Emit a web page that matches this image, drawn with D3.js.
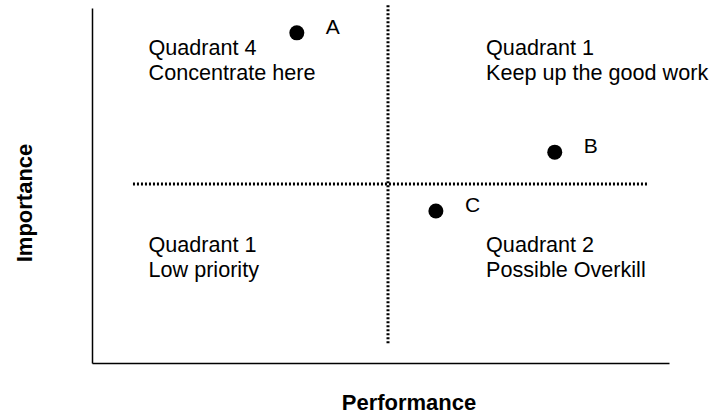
<!DOCTYPE html>
<html>
<head>
<meta charset="utf-8">
<script src="https://cdn.jsdelivr.net/npm/d3@7"></script>
<style>
  body { margin: 0; background: #fff; }
  svg text { font-family: Arial, "Liberation Sans", sans-serif; fill: #000; }
</style>
</head>
<body>
<div id="app"></div>
<script>
// chart data
var pointNames = ['A', 'B', 'C'];
var performance = [3.55, 8.02, 5.96];
var importance = [9.30, 5.94, 4.28];

var quadrantTitles = ['Quadrant 4', 'Quadrant 1', 'Quadrant 1', 'Quadrant 2'];
var quadrantNotes = ['Concentrate here', 'Keep up the good work', 'Low priority', 'Possible Overkill'];

var dividerX = 5.13;   // performance split
var dividerY = 5.04;   // importance split

var width = 712,
  height = 414;

var svg = d3.select('#app')
  .append('svg')
  .attr('width', width)
  .attr('height', height)

var x = d3.scaleLinear().domain([0, 10]).range([92, 669]);
var y = d3.scaleLinear().domain([0, 10]).range([363, 8]);

// axes (plain lines, no ticks)
svg.append('g')
  .attr('transform', 'translate(0,' + y(0) + ')')
  .call(d3.axisBottom(x).tickValues([]).tickSizeOuter(0))
  .select('.domain').attr('stroke', '#000').attr('stroke-width', 1.5)

svg.append('g')
  .attr('transform', 'translate(' + x(0) + ',0)')
  .call(d3.axisLeft(y).tickValues([]).tickSizeOuter(0))
  .select('.domain').attr('stroke', '#000').attr('stroke-width', 1.5)

// dotted quadrant dividers
svg.append('line')
  .attr('x1', x(dividerX)).attr('x2', x(dividerX))
  .attr('y1', y(10.08)).attr('y2', y(0.51))
  .attr('stroke', '#000')
  .attr('stroke-width', 3)
  .attr('stroke-dasharray', '2 2')

svg.append('line')
  .attr('x1', x(0.71)).attr('x2', x(9.64))
  .attr('y1', y(dividerY)).attr('y2', y(dividerY))
  .attr('stroke', '#000')
  .attr('stroke-width', 3)
  .attr('stroke-dasharray', '2 2')

// quadrant captions: top-left, top-right, bottom-left, bottom-right
var qx = [x(0.98), x(6.83), x(0.98), x(6.83)];
var qy = [55, 55, 252, 252];

var captions = svg.append('g').attr('class', 'captions')
quadrantTitles.forEach(function (t, i) {
  var txt = captions.append('text')
    .attr('x', qx[i])
    .attr('y', qy[i])
    .style('font-size', '21.6px')
  txt.append('tspan').attr('x', qx[i]).text(t)
  txt.append('tspan').attr('x', qx[i]).attr('dy', 25).text(quadrantNotes[i])
})

// points
svg.append('g')
  .selectAll('circle')
  .data(pointNames)
  .enter()
  .append('circle')
  .attr('cx', function (d, i) { return x(performance[i]); })
  .attr('cy', function (d, i) { return y(importance[i]); })
  .attr('r', 7.5)
  .attr('fill', '#000')

svg.append('g')
  .selectAll('text')
  .data(pointNames)
  .enter()
  .append('text')
  .attr('x', function (d, i) { return x(performance[i]) + 29; })
  .attr('y', function (d, i) { return y(importance[i]) + 1; })
  .style('font-size', '21px')
  .text(function (d) { return d; })

// axis titles
svg.append('text')
  .attr('x', 409)
  .attr('y', 410)
  .style('text-anchor', 'middle')
  .style('font-size', '22px')
  .style('font-weight', 'bold')
  .text('Performance')

svg.append('text')
  .attr('transform', 'translate(32,203) rotate(-90)')
  .style('text-anchor', 'middle')
  .style('font-size', '22px')
  .style('font-weight', 'bold')
  .text('Importance')
</script>
</body>
</html>
